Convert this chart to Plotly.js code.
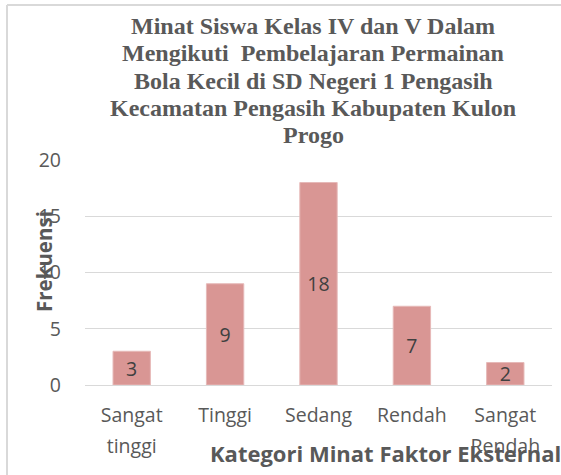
<!DOCTYPE html>
<html>
<head>
<meta charset="utf-8">
<script src="https://cdn.plot.ly/plotly-3.0.1.min.js"></script>
<style>
html,body{margin:0;padding:0;background:#fff;}
#chart{width:561px;height:475px;}
</style>
</head>
<body>
<div id="chart"></div>
<script>
const categories = ["Sangat tinggi", "Tinggi", "Sedang", "Rendah", "Sangat Rendah"];
const tickLabels = ["Sangat<br>tinggi", "Tinggi", "Sedang", "Rendah", "Sangat<br>Rendah"];
const frekuensi = [3, 9, 18, 7, 2];
const yTicks = [0, 5, 10, 15, 20];

const titleLines = [
  "Minat Siswa Kelas IV dan V Dalam",
  "Mengikuti  Pembelajaran Permainan",
  "Bola Kecil di SD Negeri 1 Pengasih",
  "Kecamatan Pengasih Kabupaten Kulon",
  "Progo"
];
const xTitle = "Kategori Minat Faktor Eksternal";
const yTitle = "Frekuensi";

const grey = "#595959";
const sans = "'Open Sans', 'Liberation Sans', sans-serif";
const serif = "'Liberation Serif', 'Times New Roman', serif";

const trace = {
  type: "bar",
  x: categories,
  y: frekuensi,
  text: frekuensi.map(String),
  textposition: "inside",
  insidetextanchor: "middle",
  textangle: 0,
  constraintext: "none",
  textfont: {family: sans, size: 19.5, color: "#404040"},
  marker: {color: "#D99694", line: {color: "#E6B9B8", width: 1}},
  hoverinfo: "none"
};

const L = 85, R = 9, T = 160, B = 90;
const W = 561 - L - R, H = 475 - T - B;
const px = x => (x - L) / W;
const py = y => (475 - B - y) / H;

const titleCenters = [25.8, 53.2, 80.6, 107.8, 135.2];
const titleAnns = titleLines.map((t, i) => ({
  text: "<b>" + t + "</b>",
  xref: "paper", yref: "paper",
  x: px(313), y: py(titleCenters[i]),
  xanchor: "center", yanchor: "middle",
  showarrow: false, align: "center",
  font: {family: serif, size: 24, color: grey}
}));

const layout = {
  width: 561, height: 475,
  margin: {l: L, r: R, t: T, b: B, pad: 0},
  paper_bgcolor: "#fff",
  plot_bgcolor: "#fff",
  showlegend: false,
  bargap: 0.6,
  xaxis: {
    type: "category",
    tickvals: categories,
    ticktext: tickLabels.map(s => '<span style="font-size:19.5px">' + s + '</span>'),
    showgrid: false,
    showline: false,
    zeroline: false,
    ticks: "",
    tickfont: {family: sans, size: 24, color: grey},
    ticklabelstandoff: 12
  },
  yaxis: {
    range: [0, 20],
    tickvals: yTicks,
    showgrid: true,
    gridcolor: "#D9D9D9",
    gridwidth: 1,
    zeroline: true,
    zerolinecolor: "#D9D9D9",
    zerolinewidth: 1,
    showline: false,
    ticks: "",
    tickfont: {family: sans, size: 19.5, color: grey},
    ticklabelstandoff: 23
  },
  annotations: titleAnns.concat([
    {
      text: "<b>" + yTitle + "</b>",
      xref: "paper", yref: "paper",
      x: px(44), y: py(262),
      xanchor: "center", yanchor: "middle",
      textangle: -90,
      showarrow: false,
      font: {family: sans, size: 20.5, color: grey}
    },
    {
      text: "<b>" + xTitle + "</b>",
      xref: "paper", yref: "paper",
      x: px(208), y: py(453),
      xanchor: "left", yanchor: "middle",
      showarrow: false,
      font: {family: sans, size: 22, color: grey}
    }
  ]),
  shapes: [
    {type: "line", xref: "paper", yref: "paper",
     x0: px(7), x1: px(561), y0: py(5), y1: py(5),
     line: {color: "#D9D9D9", width: 2}},
    {type: "line", xref: "paper", yref: "paper",
     x0: px(7), x1: px(7), y0: py(5), y1: py(480),
     line: {color: "#D9D9D9", width: 2}}
  ]
};

Plotly.newPlot("chart", [trace], layout, {displayModeBar: false, staticPlot: true});
</script>
</body>
</html>
